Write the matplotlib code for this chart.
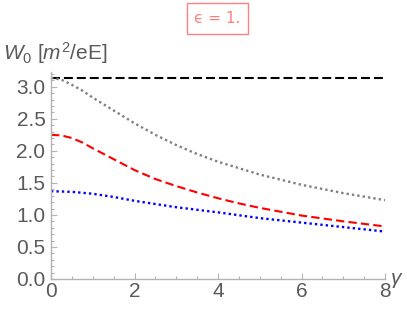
import matplotlib
matplotlib.use("Agg")
import matplotlib.pyplot as plt
from matplotlib.ticker import MultipleLocator

# data
gamma_ref = [0, 8]
w_ref = [3.1416, 3.1416]

gamma_gray = [0, 0.25, 0.5, 0.75, 1, 1.5, 2, 2.5, 3, 3.5, 4, 4.5, 5, 5.5, 6, 7, 8]
w_gray = [3.14, 3.11, 3.03, 2.94, 2.83, 2.63, 2.43, 2.25, 2.09, 1.95, 1.83, 1.73, 1.63, 1.55, 1.47, 1.34, 1.23]

gamma_red = [0, 0.25, 0.5, 0.75, 1, 1.5, 2, 2.5, 3, 3.5, 4, 4.5, 5, 6, 7, 8]
w_red = [2.25, 2.24, 2.20, 2.13, 2.04, 1.87, 1.70, 1.56, 1.45, 1.35, 1.26, 1.18, 1.11, 0.99, 0.90, 0.82]

gamma_blue = [0, 0.5, 1, 1.5, 2, 2.5, 3, 3.5, 4, 5, 6, 7, 8]
w_blue = [1.37, 1.36, 1.33, 1.28, 1.22, 1.17, 1.12, 1.08, 1.04, 0.95, 0.88, 0.81, 0.74]

xticks = [0, 2, 4, 6, 8]
yticks = [0.0, 0.5, 1.0, 1.5, 2.0, 2.5, 3.0]

plt.rcParams['font.family'] = ['Liberation Sans', 'DejaVu Sans']
plt.rcParams['mathtext.fontset'] = 'custom'
plt.rcParams['mathtext.it'] = 'Liberation Sans:italic'
plt.rcParams['mathtext.rm'] = 'Liberation Sans'

W, H = 407, 310
fig = plt.figure(figsize=(W / 100, H / 100), dpi=100)
ax = fig.add_axes([51 / W, (H - 279) / H, (385 - 51) / W, (279 - 72) / H])

lw = 1.5
ax.plot(gamma_ref, w_ref, color='black', lw=lw, dashes=(4.3, 1.9), dash_capstyle='butt', clip_on=False)
ax.plot(gamma_gray, w_gray, color='#808080', lw=1.7, dashes=(1.0, 1.3), clip_on=False)
ax.plot(gamma_red, w_red, color='#ff0000', lw=lw, dashes=(4.0, 2.0), clip_on=False)
ax.plot(gamma_blue, w_blue, color='#0000ff', lw=1.7, dashes=(1.0, 1.3), clip_on=False)

ax.set_xlim(0, 8)
ax.set_ylim(0, 3.23)
for s in ['top', 'right']:
    ax.spines[s].set_visible(False)
for s in ['left', 'bottom']:
    ax.spines[s].set_color('#b3b3b3')
    ax.spines[s].set_linewidth(1.0)

ax.set_xticks(xticks)
ax.set_xticklabels([str(v) for v in xticks])
ax.set_yticks(yticks)
ax.set_yticklabels([f"{v:.1f}" for v in yticks])
ax.xaxis.set_minor_locator(MultipleLocator(0.5))
ax.yaxis.set_minor_locator(MultipleLocator(0.1))
ax.tick_params(which='both', direction='in', color='#b3b3b3', width=0.8,
               labelcolor='#5a5a5a', labelsize=15)
ax.tick_params(which='major', length=4)
ax.tick_params(which='minor', length=2.2)
ax.tick_params(axis='x', pad=2)
ax.tick_params(axis='y', pad=4)

fig.text(3 / W, 1 - 53 / H, r'$W_0$ [$m^2$/eE]', fontsize=15, color='#5a5a5a',
         ha='left', va='center')
fig.text(397 / W, 1 - 280 / H, r'$\gamma$', fontsize=15, color='#5a5a5a',
         ha='center', va='center')

fig.text(217.5 / W, 1 - 18.5 / H, '\u03f5 = 1.', fontsize=11, color='#ff7f7f',
         family=['DejaVu Sans'], ha='center', va='center',
         bbox=dict(boxstyle='square,pad=0.5', facecolor='white', edgecolor='#ff8080', lw=1.0))

fig.savefig('out.png', dpi=100)
